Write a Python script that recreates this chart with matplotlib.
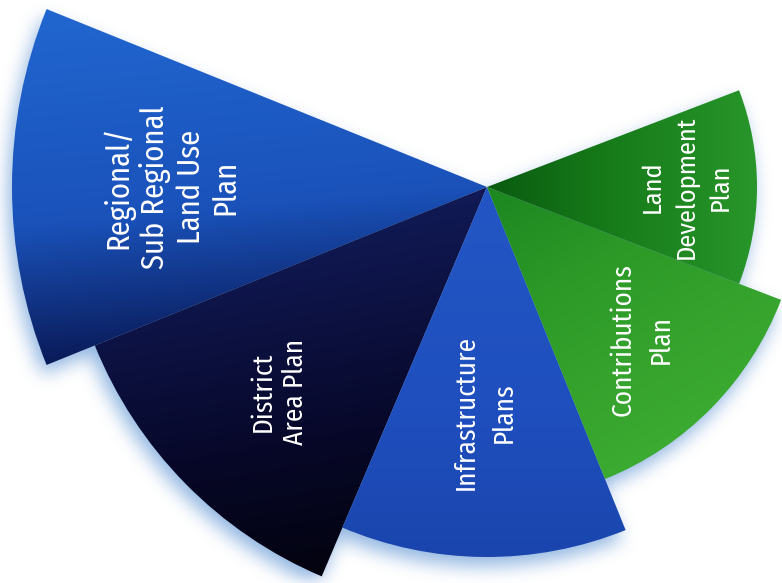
import matplotlib
matplotlib.use("Agg")
import matplotlib.pyplot as plt
import numpy as np
from matplotlib.patches import Wedge
from matplotlib.colors import LinearSegmentedColormap, to_rgb

# sectors, going counter-clockwise from the upper left
labels = ["Regional/\nSub Regional\nLand Use\nPlan",
          "District\nArea Plan",
          "Infrastructure\nPlans",
          "Contributions\nPlan",
          "Land\nDevelopment\nPlan"]
spans = [44, 45, 45, 47, 42]          # angular width of each sector (deg)
radii = [475, 423, 370, 315, 270]     # length of each sector
start_angle = 158

# dark -> mid -> light colour of every sector
colors_dark = ['#0a1a58', '#03030f', '#1a45ad', '#1c8620', '#0a5a10']
colors_mid = ['#1a52ba', '#07082a', '#1f4fbe', '#2d9a28', '#157818']
colors_light = ['#2166d0', '#111a56', '#2356c4', '#3cab31', '#28962a']
shade_dir = [95, 100, 90, 300, 0]     # direction of the light side of each sector
label_frac = [0.665, 0.69, 0.61, 0.69, 0.74]
label_size = [22, 19.5, 19.5, 19.5, 19]
label_spacing = [1.2, 1.27, 1.5, 1.55, 1.47]

W, H = 782, 583
cx, cy = 487, 396

fig = plt.figure(figsize=(W / 100, H / 100), dpi=100)
ax = fig.add_axes([0, 0, 1, 1])
ax.set_xlim(0, W)
ax.set_ylim(0, H)
ax.axis('off')

xs = np.arange(W) + 0.5
ys = np.arange(H) + 0.5
X, Y = np.meshgrid(xs, ys)

edges = start_angle + np.concatenate([[0], np.cumsum(spans)])
wedges = []
for i in range(len(labels)):
    w = Wedge((cx, cy), radii[i], edges[i], edges[i + 1], facecolor='none', edgecolor='none')
    ax.add_patch(w)
    wedges.append(w)

# soft bluish shadow under the sectors
pts = np.column_stack([X.ravel() + 4, Y.ravel() + 9])
mask = np.zeros(X.size, dtype=bool)
for w in wedges:
    mask |= w.get_path().contains_points(pts)
mask = mask.reshape(X.shape).astype(float)
k = np.ones(17) / 17
for _ in range(3):
    mask = np.apply_along_axis(lambda m: np.convolve(m, k, mode='same'), 1, mask)
    mask = np.apply_along_axis(lambda m: np.convolve(m, k, mode='same'), 0, mask)
shadow = np.zeros((H, W, 4))
shadow[..., :3] = to_rgb('#6f9fd8')
shadow[..., 3] = mask * 0.75
ax.imshow(shadow, extent=(0, W, 0, H), origin='lower', zorder=1, interpolation='bilinear')

# gradient fill clipped to each sector
for i, w in enumerate(wedges):
    a = np.deg2rad(shade_dir[i])
    d = (X - cx) * np.cos(a) + (Y - cy) * np.sin(a)
    v = w.get_path().vertices
    dv = (v[:, 0] - cx) * np.cos(a) + (v[:, 1] - cy) * np.sin(a)
    val = (d - dv.min()) / (dv.max() - dv.min())
    cmap = LinearSegmentedColormap.from_list(
        'c%d' % i, [(0, colors_dark[i]), (0.4, colors_mid[i]), (1, colors_light[i])])
    im = ax.imshow(val, extent=(0, W, 0, H), origin='lower', cmap=cmap,
                   vmin=0, vmax=1, zorder=2 + i * 0.1, interpolation='bilinear')
    im.set_clip_path(w)

for i, lab in enumerate(labels):
    mid = np.deg2rad((edges[i] + edges[i + 1]) / 2)
    r = radii[i] * label_frac[i]
    ax.text(cx + r * np.cos(mid), cy + r * np.sin(mid), lab, rotation=90,
            ha='center', va='center', color='white', fontsize=label_size[i],
            linespacing=label_spacing[i],
            family=['Fira Sans Condensed', 'PT Sans Narrow', 'DejaVu Sans'], zorder=5)

fig.savefig('out.png', dpi=100)
